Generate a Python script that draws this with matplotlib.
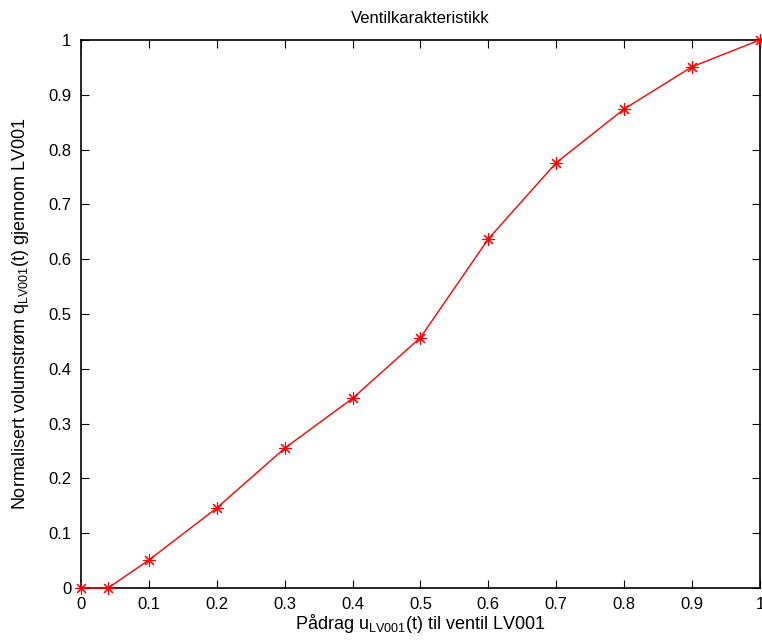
import matplotlib
matplotlib.use('Agg')
import matplotlib.pyplot as plt

plt.rcParams['font.family'] = ['Liberation Sans', 'DejaVu Sans']
plt.rcParams['mathtext.default'] = 'regular'

# valve characteristic
u = [0, 0.04, 0.1, 0.2, 0.3, 0.4, 0.5, 0.6, 0.7, 0.8, 0.9, 1.0]
q = [0, 0, 0.051, 0.146, 0.255, 0.346, 0.457, 0.637, 0.776, 0.874, 0.951, 1.0]
xticks = [0, 0.1, 0.2, 0.3, 0.4, 0.5, 0.6, 0.7, 0.8, 0.9, 1]
yticks = [0, 0.1, 0.2, 0.3, 0.4, 0.5, 0.6, 0.7, 0.8, 0.9, 1]

fig = plt.figure(figsize=(7.62, 6.44), dpi=100)
ax = fig.add_axes([0.1063, 0.087, 0.891, 0.851])

ax.plot(u, q, color='red', lw=1, marker=(8, 2, 0), ms=9, mew=0.8, mec='red',
        clip_on=False, zorder=3)

ax.set_xlim(0, 1)
ax.set_ylim(0, 1)
ax.set_xticks(xticks)
ax.set_yticks(yticks)
ax.set_xticklabels([('%g' % t) for t in xticks])
ax.set_yticklabels([('%g' % t) for t in yticks])
ax.tick_params(direction='in', top=True, right=True, labelsize=12, length=6, width=0.8)
ax.tick_params(axis='x', pad=6.5)
ax.tick_params(axis='y', pad=7)
for s in ax.spines.values():
    s.set_linewidth(1.2)

ax.set_title('Ventilkarakteristikk', fontsize=12, pad=12)
ax.set_xlabel('Pådrag u$_{LV001}$(t) til ventil LV001', fontsize=13, labelpad=0)
ax.set_ylabel('Normalisert volumstrøm q$_{LV001}$(t) gjennom LV001', fontsize=13, labelpad=12)

fig.savefig('out.png', dpi=100)
